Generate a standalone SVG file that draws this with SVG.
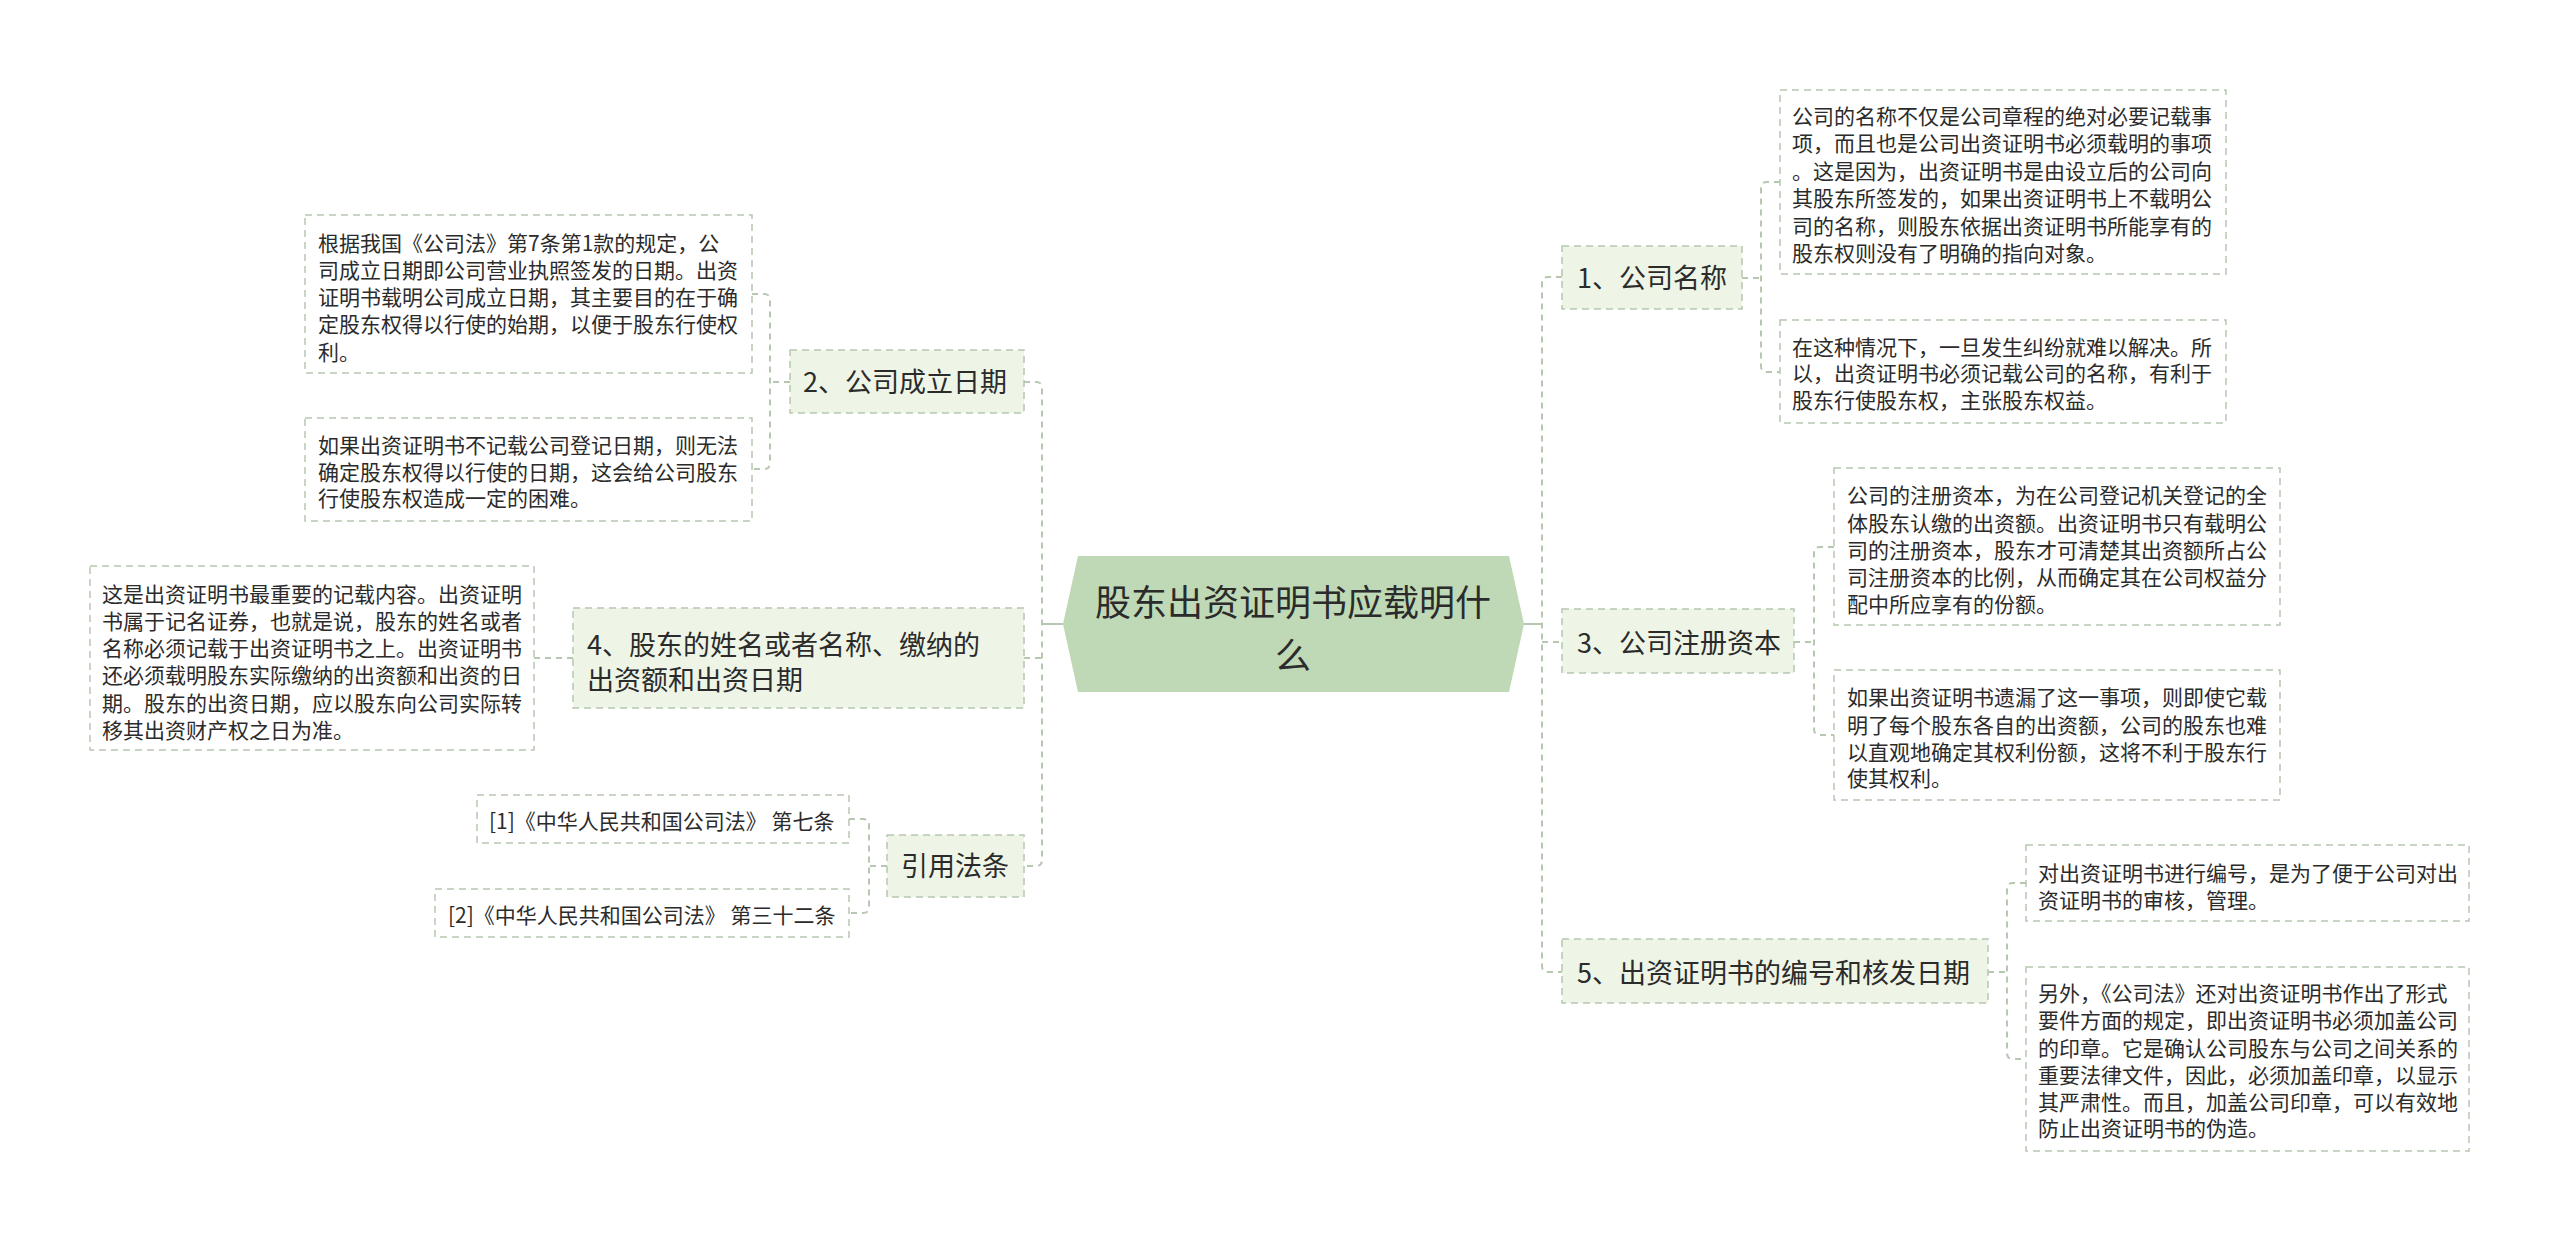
<svg xmlns="http://www.w3.org/2000/svg" width="2560" height="1242" viewBox="0 0 2560 1242">
<style>
text{font-family:"Noto Sans CJK SC","Liberation Sans",sans-serif;fill:#2b2b2b}
.t21{font-size:21px}
.t27{font-size:27px}
.t36{font-size:36px}
.leaf{fill:#ffffff;stroke:#b7c8b1;stroke-width:1.5;stroke-dasharray:7 5}
.sub{fill:#eef5e7;stroke:#b7c8b1;stroke-width:1.5;stroke-dasharray:7 5}
.root{fill:#bfd8b5}
.c{fill:none;stroke:#b7c8b1;stroke-width:2;stroke-dasharray:6 5}
.s{fill:none;stroke:#b7c8b1;stroke-width:2}
</style>
<rect width="2560" height="1242" fill="#ffffff"/>
<g id="connectors">
<path class="s" d="M1063 624 H1042"/>
<path class="c" d="M1024 382 H1036 Q1042 382 1042 388 V860 Q1042 866 1036 866 H1024"/>
<path class="c" d="M1024 658 H1042"/>
<path class="c" d="M790 382 H770"/>
<path class="c" d="M752 294 H764 Q770 294 770 300 V463 Q770 469 764 469 H752"/>
<path class="c" d="M573 658 H534"/>
<path class="c" d="M887 866 H869"/>
<path class="c" d="M849 819 H863 Q869 819 869 825 V907 Q869 913 863 913 H849"/>
<path class="s" d="M1524 624 H1542"/>
<path class="c" d="M1562 277 H1548 Q1542 277 1542 283 V966 Q1542 972 1548 972 H1562"/>
<path class="c" d="M1542 642 H1562"/>
<path class="c" d="M1742 278 H1761"/>
<path class="c" d="M1780 182 H1767 Q1761 182 1761 188 V366 Q1761 372 1767 372 H1780"/>
<path class="c" d="M1794 642 H1814"/>
<path class="c" d="M1834 547 H1820 Q1814 547 1814 553 V729 Q1814 735 1820 735 H1834"/>
<path class="c" d="M1988 972 H2007"/>
<path class="c" d="M2026 883 H2013 Q2007 883 2007 889 V1053 Q2007 1059 2013 1059 H2026"/>
</g>
<g id="root">
<polygon class="root" points="1063,624 1078,556 1509,556 1524,624 1509,692 1078,692"/>
<text class="t36" text-anchor="middle"><tspan x="1293" y="616">股东出资证明书应载明什</tspan><tspan x="1293" y="669">么</tspan></text>
</g>
<g id="n2">
<rect class="sub" x="790" y="350" width="234" height="63"/>
<text class="t27" x="803" y="392">2、公司成立日期</text>
</g>
<g id="n2a">
<rect class="leaf" x="305" y="215" width="447" height="158"/>
<text class="t21"><tspan x="318" y="251">根据我国《公司法》第7条第1款的规定，公</tspan><tspan x="318" y="278">司成立日期即公司营业执照签发的日期。出资</tspan><tspan x="318" y="305">证明书载明公司成立日期，其主要目的在于确</tspan><tspan x="318" y="332">定股东权得以行使的始期，以便于股东行使权</tspan><tspan x="318" y="360">利。</tspan></text>
</g>
<g id="n2b">
<rect class="leaf" x="305" y="418" width="447" height="103"/>
<text class="t21"><tspan x="318" y="453">如果出资证明书不记载公司登记日期，则无法</tspan><tspan x="318" y="480">确定股东权得以行使的日期，这会给公司股东</tspan><tspan x="318" y="506">行使股东权造成一定的困难。</tspan></text>
</g>
<g id="n4">
<rect class="sub" x="573" y="608" width="451" height="100"/>
<text class="t27"><tspan x="587" y="655">4、股东的姓名或者名称、缴纳的</tspan><tspan x="587" y="690">出资额和出资日期</tspan></text>
</g>
<g id="n4a">
<rect class="leaf" x="90" y="566" width="444" height="184"/>
<text class="t21"><tspan x="102" y="602">这是出资证明书最重要的记载内容。出资证明</tspan><tspan x="102" y="629">书属于记名证券，也就是说，股东的姓名或者</tspan><tspan x="102" y="656">名称必须记载于出资证明书之上。出资证明书</tspan><tspan x="102" y="683">还必须载明股东实际缴纳的出资额和出资的日</tspan><tspan x="102" y="711">期。股东的出资日期，应以股东向公司实际转</tspan><tspan x="102" y="738">移其出资财产权之日为准。</tspan></text>
</g>
<g id="nref">
<rect class="sub" x="887" y="835" width="137" height="62"/>
<text class="t27" x="901" y="876">引用法条</text>
</g>
<g id="nref1">
<rect class="leaf" x="477" y="795" width="372" height="48"/>
<text class="t21" x="489" y="829">[1]《中华人民共和国公司法》 第七条</text>
</g>
<g id="nref2">
<rect class="leaf" x="435" y="889" width="414" height="48"/>
<text class="t21" x="448" y="923">[2]《中华人民共和国公司法》 第三十二条</text>
</g>
<g id="n1">
<rect class="sub" x="1562" y="246" width="180" height="63"/>
<text class="t27" x="1577" y="288">1、公司名称</text>
</g>
<g id="n1a">
<rect class="leaf" x="1780" y="90" width="446" height="184"/>
<text class="t21"><tspan x="1792" y="124">公司的名称不仅是公司章程的绝对必要记载事</tspan><tspan x="1792" y="151">项，而且也是公司出资证明书必须载明的事项</tspan><tspan x="1792" y="179">。这是因为，出资证明书是由设立后的公司向</tspan><tspan x="1792" y="206">其股东所签发的，如果出资证明书上不载明公</tspan><tspan x="1792" y="234">司的名称，则股东依据出资证明书所能享有的</tspan><tspan x="1792" y="261">股东权则没有了明确的指向对象。</tspan></text>
</g>
<g id="n1b">
<rect class="leaf" x="1780" y="320" width="446" height="103"/>
<text class="t21"><tspan x="1792" y="355">在这种情况下，一旦发生纠纷就难以解决。所</tspan><tspan x="1792" y="381">以，出资证明书必须记载公司的名称，有利于</tspan><tspan x="1792" y="408">股东行使股东权，主张股东权益。</tspan></text>
</g>
<g id="n3">
<rect class="sub" x="1562" y="609" width="232" height="64"/>
<text class="t27" x="1577" y="653">3、公司注册资本</text>
</g>
<g id="n3a">
<rect class="leaf" x="1834" y="468" width="446" height="157"/>
<text class="t21"><tspan x="1847" y="503">公司的注册资本，为在公司登记机关登记的全</tspan><tspan x="1847" y="531">体股东认缴的出资额。出资证明书只有载明公</tspan><tspan x="1847" y="558">司的注册资本，股东才可清楚其出资额所占公</tspan><tspan x="1847" y="585">司注册资本的比例，从而确定其在公司权益分</tspan><tspan x="1847" y="612">配中所应享有的份额。</tspan></text>
</g>
<g id="n3b">
<rect class="leaf" x="1834" y="670" width="446" height="130"/>
<text class="t21"><tspan x="1847" y="705">如果出资证明书遗漏了这一事项，则即使它载</tspan><tspan x="1847" y="733">明了每个股东各自的出资额，公司的股东也难</tspan><tspan x="1847" y="760">以直观地确定其权利份额，这将不利于股东行</tspan><tspan x="1847" y="786">使其权利。</tspan></text>
</g>
<g id="n5">
<rect class="sub" x="1562" y="939" width="426" height="64"/>
<text class="t27" x="1577" y="983">5、出资证明书的编号和核发日期</text>
</g>
<g id="n5a">
<rect class="leaf" x="2026" y="845" width="443" height="76"/>
<text class="t21"><tspan x="2038" y="881">对出资证明书进行编号，是为了便于公司对出</tspan><tspan x="2038" y="908">资证明书的审核，管理。</tspan></text>
</g>
<g id="n5b">
<rect class="leaf" x="2026" y="967" width="443" height="184"/>
<text class="t21"><tspan x="2038" y="1001">另外，《公司法》还对出资证明书作出了形式</tspan><tspan x="2038" y="1028">要件方面的规定，即出资证明书必须加盖公司</tspan><tspan x="2038" y="1056">的印章。它是确认公司股东与公司之间关系的</tspan><tspan x="2038" y="1083">重要法律文件，因此，必须加盖印章，以显示</tspan><tspan x="2038" y="1110">其严肃性。而且，加盖公司印章，可以有效地</tspan><tspan x="2038" y="1136">防止出资证明书的伪造。</tspan></text>
</g>
</svg>
